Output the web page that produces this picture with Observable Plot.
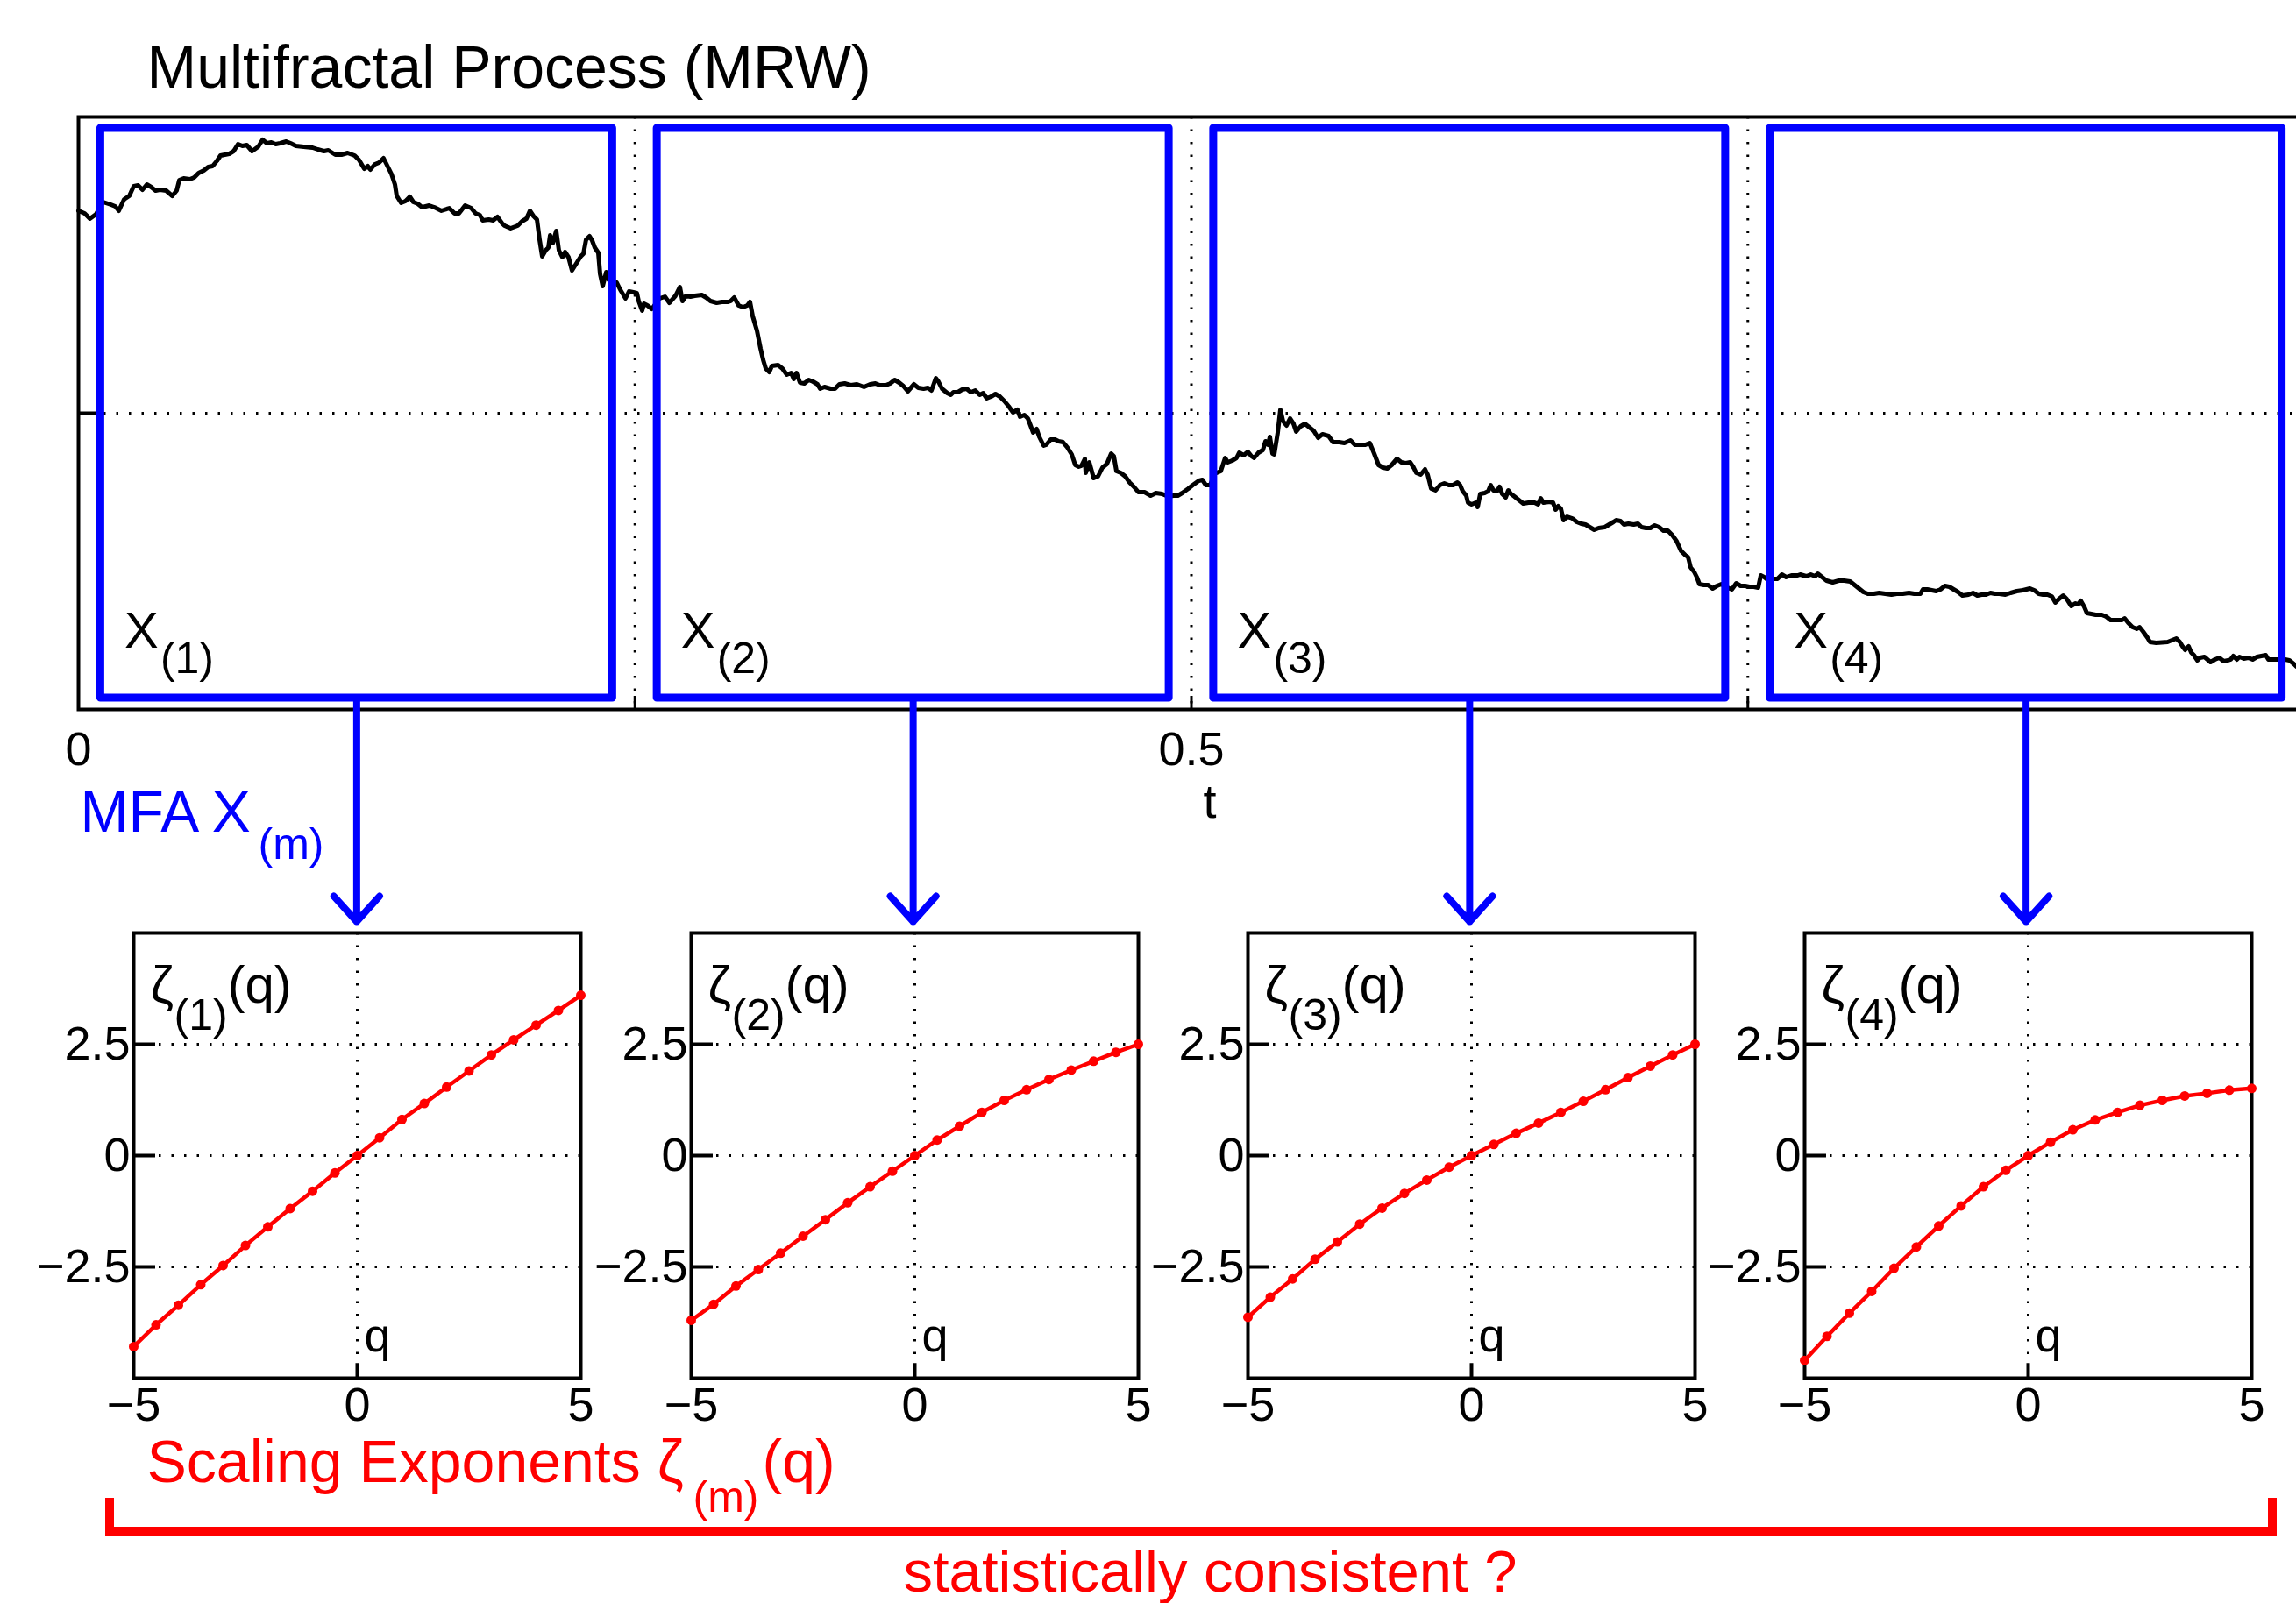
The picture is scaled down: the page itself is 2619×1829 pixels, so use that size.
<!DOCTYPE html>
<html><head><meta charset="utf-8">
<script src="https://cdn.jsdelivr.net/npm/d3@7"></script>
<script src="https://cdn.jsdelivr.net/npm/@observablehq/plot@0.6"></script>
<style>
html,body{margin:0;padding:0;background:#fff;overflow:hidden}
#fig{position:relative;width:2619px;height:1829px;overflow:hidden;background:#fff}
#fig svg{position:absolute;max-width:none;overflow:hidden;background:transparent}
#bracket{position:absolute;box-sizing:border-box;left:120px;top:1709px;width:2477px;height:43px;border:10px solid #ff0000;border-top:none}
</style></head>
<body><div id="fig"><div id="bracket"></div></div>
<script>
// ---------------- data ----------------
// MRW sample path: [sample index n (N samples per unit of t), value (arbitrary units)]
const samplesPerUnit = 2539;
const mrwPath = [
[0,2.31],[7,2.28],[13,2.22],[20,2.27],[28,2.41],[37,2.38],[42,2.36],[46,2.31],[52,2.44],[58,2.48],[63,2.59],[68,2.60],[73,2.55],[78,2.61],[83,2.58],[88,2.54],[93,2.55],[100,2.54],[107,2.48],[112,2.54],[115,2.66],[120,2.68],[127,2.67],[132,2.69],[137,2.74],[143,2.77],[148,2.81],[153,2.82],[158,2.88],[162,2.94],[167,2.95],[172,2.96],[177,2.99],[182,3.07],[187,3.05],[192,3.06],[198,2.99],[205,3.04],[210,3.12],[215,3.08],[220,3.09],[225,3.07],[230,3.08],[237,3.10],[242,3.08],[248,3.05],[257,3.04],[267,3.03],[273,3.01],[280,2.99],[285,3.00],[293,2.95],[300,2.95],[307,2.97],[315,2.94],[320,2.89],[326,2.79],[330,2.82],[333,2.78],[338,2.84],[343,2.86],[348,2.91],[352,2.83],[357,2.73],[361,2.61],[363,2.48],[368,2.40],[373,2.42],[378,2.47],[382,2.41],[387,2.39],[392,2.35],[400,2.37],
[406,2.35],[414,2.31],[423,2.34],[429,2.28],[434,2.28],[441,2.37],[448,2.34],[453,2.28],[458,2.26],[461,2.20],[468,2.21],[473,2.20],[478,2.24],[483,2.17],[486,2.14],[493,2.11],[501,2.14],[506,2.19],[511,2.22],[515,2.31],[519,2.25],[523,2.21],[526,1.98],[529,1.79],[533,1.86],[536,1.89],[538,2.03],[541,1.94],[545,2.08],[548,1.86],[552,1.78],[555,1.84],[559,1.78],[563,1.63],[568,1.71],[573,1.79],[576,1.82],[579,1.98],[583,2.02],[586,1.97],[589,1.89],[593,1.83],[595,1.59],[598,1.45],[602,1.61],[604,1.53],[609,1.48],[614,1.49],[618,1.41],[621,1.36],[624,1.31],[628,1.39],[633,1.38],[637,1.37],[639,1.28],[643,1.17],[645,1.25],[649,1.23],[654,1.19],[663,1.31],[669,1.33],[674,1.26],[681,1.34],[686,1.44],[689,1.28],[693,1.34],[698,1.33],[703,1.34],[711,1.35],[716,1.32],[721,1.28],[728,1.26],[734,1.27],[741,1.27],[744,1.28],[748,1.32],[753,1.23],[758,1.21],[763,1.23],[766,1.27],[769,1.11],[774,0.94],[778,0.74],[781,0.61],[784,0.51],[788,0.47],[791,0.54],
[798,0.55],[803,0.51],[808,0.44],[813,0.46],[816,0.39],[819,0.46],[823,0.35],[828,0.34],[833,0.38],[838,0.36],[843,0.33],[846,0.28],[851,0.30],[858,0.28],[863,0.28],[868,0.33],[874,0.34],[881,0.32],[888,0.33],[896,0.30],[903,0.33],[909,0.34],[914,0.32],[921,0.32],[926,0.34],[931,0.38],[936,0.35],[941,0.31],[946,0.25],[953,0.33],[958,0.29],[964,0.28],[969,0.29],[973,0.26],[978,0.40],[981,0.36],[985,0.28],[991,0.23],[995,0.21],[998,0.24],[1003,0.24],[1008,0.27],[1013,0.28],[1018,0.24],[1023,0.26],[1028,0.21],[1032,0.23],[1036,0.17],[1041,0.19],[1046,0.22],[1051,0.19],[1056,0.14],[1061,0.08],[1066,0.01],[1071,0.04],[1074,-0.04],[1079,-0.02],[1083,-0.06],[1086,-0.14],[1089,-0.22],[1093,-0.18],[1096,-0.27],[1101,-0.37],[1104,-0.36],[1109,-0.30],[1114,-0.30],[1118,-0.32],[1123,-0.33],[1128,-0.39],[1133,-0.47],[1137,-0.59],[1141,-0.61],[1144,-0.60],[1148,-0.52],[1149,-0.68],[1153,-0.56],[1158,-0.74],[1163,-0.72],[1168,-0.62],[1173,-0.58],[1178,-0.46],[1181,-0.49],
[1184,-0.66],[1189,-0.68],[1194,-0.72],[1199,-0.79],[1204,-0.84],[1209,-0.90],[1216,-0.90],[1223,-0.94],[1229,-0.91],[1236,-0.92],[1243,-0.95],[1249,-0.94],[1254,-0.94],[1259,-0.91],[1266,-0.86],[1271,-0.82],[1278,-0.77],[1282,-0.76],[1286,-0.82],[1291,-0.82],[1296,-0.69],[1303,-0.66],[1308,-0.51],[1311,-0.56],[1316,-0.54],[1321,-0.51],[1324,-0.45],[1329,-0.48],[1334,-0.44],[1338,-0.49],[1341,-0.51],[1346,-0.45],[1351,-0.42],[1354,-0.32],[1357,-0.36],[1359,-0.27],[1362,-0.46],[1364,-0.47],[1368,-0.22],[1371,0.04],[1374,-0.09],[1378,-0.14],[1382,-0.06],[1386,-0.12],[1389,-0.21],[1394,-0.15],[1399,-0.12],[1404,-0.16],[1409,-0.20],[1414,-0.28],[1419,-0.24],[1426,-0.26],[1431,-0.33],[1438,-0.33],[1444,-0.34],[1451,-0.31],[1456,-0.36],[1461,-0.36],[1468,-0.36],[1473,-0.34],[1478,-0.46],[1483,-0.59],[1488,-0.62],[1493,-0.63],[1498,-0.59],[1504,-0.52],[1509,-0.56],[1514,-0.57],[1519,-0.56],[1523,-0.62],[1526,-0.68],[1531,-0.70],[1536,-0.64],[1539,-0.70],[1543,-0.86],[1548,-0.88],[1553,-0.82],[1558,-0.80],[1563,-0.82],[1568,-0.82],
[1573,-0.79],[1576,-0.82],[1579,-0.89],[1583,-0.94],[1585,-1.02],[1589,-1.04],[1594,-1.02],[1596,-1.07],[1599,-0.92],[1604,-0.91],[1608,-0.89],[1611,-0.82],[1614,-0.88],[1618,-0.89],[1621,-0.84],[1624,-0.92],[1628,-0.96],[1631,-0.88],[1634,-0.92],[1638,-0.95],[1643,-0.99],[1648,-1.03],[1654,-1.02],[1661,-1.02],[1665,-1.04],[1668,-0.97],[1671,-1.02],[1678,-1.01],[1682,-1.02],[1685,-1.10],[1688,-1.06],[1691,-1.09],[1694,-1.22],[1698,-1.18],[1704,-1.20],[1709,-1.24],[1714,-1.26],[1719,-1.27],[1724,-1.30],[1729,-1.33],[1734,-1.31],[1741,-1.30],[1746,-1.27],[1751,-1.24],[1754,-1.22],[1759,-1.23],[1763,-1.27],[1768,-1.26],[1774,-1.27],[1779,-1.26],[1783,-1.30],[1788,-1.31],[1793,-1.31],[1798,-1.28],[1803,-1.30],[1808,-1.34],[1813,-1.34],[1818,-1.39],[1823,-1.46],[1828,-1.57],[1833,-1.62],[1836,-1.64],[1839,-1.76],[1843,-1.81],[1846,-1.87],[1849,-1.95],[1854,-1.96],[1859,-1.96],[1864,-2.00],[1869,-1.97],[1874,-1.95],[1881,-1.99],[1886,-2.01],[1891,-1.94],[1896,-1.97],[1901,-1.97],[1906,-1.98],[1911,-1.98],[1916,-1.99],[1919,-1.85],[1923,-1.87],[1928,-1.91],[1933,-1.89],[1938,-1.89],[1943,-1.84],[1948,-1.87],[1954,-1.85],[1961,-1.85],
[1964,-1.84],[1971,-1.86],[1976,-1.84],[1981,-1.86],[1984,-1.83],[1989,-1.87],[1994,-1.91],[2001,-1.93],[2008,-1.91],[2014,-1.91],[2021,-1.92],[2026,-1.96],[2031,-2.00],[2036,-2.04],[2041,-2.06],[2048,-2.06],[2054,-2.05],[2061,-2.06],[2068,-2.07],[2074,-2.06],[2081,-2.06],[2088,-2.05],[2094,-2.06],[2101,-2.06],[2104,-2.01],[2109,-2.01],[2114,-2.02],[2119,-2.03],[2124,-2.01],[2129,-1.97],[2134,-1.98],[2139,-2.01],[2144,-2.04],[2149,-2.08],[2156,-2.07],[2161,-2.05],[2166,-2.08],[2171,-2.07],[2176,-2.07],[2181,-2.05],[2186,-2.06],[2191,-2.06],[2198,-2.07],[2204,-2.05],[2211,-2.03],[2218,-2.02],[2226,-2.00],[2231,-2.02],[2236,-2.06],[2241,-2.07],[2246,-2.07],[2251,-2.09],[2255,-2.16],[2259,-2.12],[2264,-2.08],[2268,-2.12],[2273,-2.20],[2278,-2.17],[2281,-2.18],[2284,-2.14],[2288,-2.21],[2291,-2.28],[2296,-2.29],[2301,-2.30],[2308,-2.30],[2313,-2.32],[2318,-2.36],[2324,-2.36],[2331,-2.36],[2334,-2.34],[2338,-2.39],[2343,-2.44],[2348,-2.46],[2351,-2.44],
[2355,-2.49],[2360,-2.56],[2363,-2.61],[2370,-2.62],[2383,-2.61],[2388,-2.59],[2393,-2.57],[2397,-2.61],[2400,-2.66],[2403,-2.70],[2407,-2.66],[2410,-2.73],[2413,-2.76],[2417,-2.82],[2420,-2.79],[2425,-2.78],[2432,-2.84],[2437,-2.81],[2442,-2.79],[2447,-2.83],[2452,-2.82],[2455,-2.81],[2458,-2.77],[2462,-2.81],[2465,-2.78],[2470,-2.80],[2475,-2.79],[2480,-2.81],[2485,-2.78],[2490,-2.77],[2495,-2.76],[2498,-2.81],[2503,-2.81],[2510,-2.81],[2517,-2.81],[2522,-2.82],[2527,-2.86],[2530,-2.89]
];

// analysis windows (in t)
const segStart = [0.01, 0.26, 0.51, 0.76];
const segEnd   = [0.24, 0.49, 0.74, 0.99];
const segLabels = ["(1)", "(2)", "(3)", "(4)"];

// top panel ticks
const tTickLabels = [0, 0.5];
const tGrid = [0.25, 0.5, 0.75];
const vGrid = [0];

// scaling exponents
const qValues = [-5,-4.5,-4,-3.5,-3,-2.5,-2,-1.5,-1,-0.5,0,0.5,1,1.5,2,2.5,3,3.5,4,4.5,5];
const zeta1 = [-4.29,-3.80,-3.36,-2.90,-2.47,-2.02,-1.60,-1.19,-0.80,-0.39,0,0.40,0.81,1.17,1.54,1.90,2.26,2.60,2.93,3.26,3.60];
const zeta2 = [-3.70,-3.34,-2.93,-2.56,-2.19,-1.81,-1.44,-1.06,-0.70,-0.35,0,0.35,0.66,0.97,1.24,1.48,1.71,1.92,2.12,2.32,2.50];
const zeta3 = [-3.63,-3.18,-2.77,-2.33,-1.94,-1.54,-1.18,-0.85,-0.55,-0.26,0,0.25,0.50,0.73,0.97,1.22,1.48,1.75,2.01,2.26,2.50];
const zeta4 = [-4.60,-4.06,-3.54,-3.05,-2.53,-2.05,-1.58,-1.13,-0.70,-0.33,0,0.30,0.58,0.80,0.97,1.13,1.24,1.34,1.40,1.47,1.51];
const zetaSeries = [zeta1, zeta2, zeta3, zeta4];
const qTicks = [-5, 0, 5];
const zTicks = [-2.5, 0, 2.5];

// ---------------- drawing ----------------
const FONT = '"Liberation Sans", Arial, Helvetica, sans-serif';
const BLUE = "#0000ff", RED = "#ff0000";
const dotted = {stroke: "black", strokeOpacity: 1, strokeWidth: 3, strokeDasharray: "2.5,12"};
const minus = d => (d < 0 ? "\u2212" : "") + Math.abs(d);

const mrw = mrwPath.map(([n, v]) => ({t: n / samplesPerUnit, v}));
const segs = segStart.map((s, i) => ({x1: s, x2: segEnd[i], mid: (s + segEnd[i]) / 2, sub: segLabels[i]}));

const fig = document.getElementById("fig");

const topPlot = Plot.plot({
  width: 2619, height: 1829,
  marginLeft: 89, marginRight: -9, marginTop: 133, marginBottom: 1020,
  style: {fontFamily: FONT, overflow: "hidden", background: "transparent"},
  x: {domain: [0, 1]},
  y: {domain: [-3.38, 3.38], axis: null},
  marks: [
    Plot.gridX({ticks: tGrid, ...dotted}),
    Plot.gridY({ticks: vGrid, ...dotted}),
    Plot.frame({stroke: "black", strokeWidth: 4}),
    Plot.ruleX(tGrid, {y1: -3.38, y2: -3.23, stroke: "black", strokeWidth: 3}),
    Plot.ruleY(vGrid, {x1: 0, x2: 0.009, stroke: "black", strokeWidth: 4}),
    Plot.axisX({ticks: tTickLabels, tickSize: 0, tickPadding: 25, tickFormat: d => String(d), fontSize: 54, label: null}),
    Plot.line(mrw, {x: "t", y: "v", stroke: "black", strokeWidth: 5, strokeLinejoin: "round"}),
    Plot.arrow(segs, {x1: "mid", x2: "mid", y1: -3.25, y2: -5.80, stroke: BLUE, strokeWidth: 8, headLength: 7.3, headAngle: 84}),
    Plot.rect(segs, {x1: "x1", x2: "x2", y1: -3.25, y2: 3.25, fill: "none", stroke: BLUE, strokeWidth: 9, strokeLinejoin: "round"}),
    Plot.text(segs, {x: "x1", y: -2.67, text: () => "X", dx: 27, textAnchor: "start", lineAnchor: "bottom", fontSize: 58}),
    Plot.text(segs, {x: "x1", y: -2.96, text: "sub", dx: 68, textAnchor: "start", lineAnchor: "bottom", fontSize: 50}),
    Plot.text(["Multifractal Process (MRW)"], {frameAnchor: "top-left", dx: 78, dy: -34, textAnchor: "start", lineAnchor: "bottom", fontSize: 68}),
    Plot.text(["t"], {frameAnchor: "bottom", dx: 21, dy: 123, lineAnchor: "bottom", fontSize: 54}),
    Plot.text(["MFA X"], {frameAnchor: "bottom-left", dx: 2, dy: 139, textAnchor: "start", lineAnchor: "bottom", fontSize: 66, fill: BLUE}),
    Plot.text(["(m)"], {frameAnchor: "bottom-left", dx: 205, dy: 170, textAnchor: "start", lineAnchor: "bottom", fontSize: 50, fill: BLUE}),
    Plot.text(["Scaling Exponents \u03b6"], {frameAnchor: "bottom-left", dx: 78, dy: 881, textAnchor: "start", lineAnchor: "bottom", fontSize: 68, fill: RED}),
    Plot.text(["(m)"], {frameAnchor: "bottom-left", dx: 701, dy: 915, textAnchor: "start", lineAnchor: "bottom", fontSize: 50, fill: RED}),
    Plot.text(["(q)"], {frameAnchor: "bottom-left", dx: 780, dy: 881, textAnchor: "start", lineAnchor: "bottom", fontSize: 68, fill: RED}),
    Plot.text(["statistically consistent ?"], {frameAnchor: "bottom-left", dx: 941, dy: 1006, textAnchor: "start", lineAnchor: "bottom", fontSize: 67, fill: RED})
  ]
});
topPlot.style.left = "0px";
topPlot.style.top = "0px";
fig.appendChild(topPlot);

const subFrameLeft = [152, 788, 1423, 2058];
const ML = 120, MT = 20;
zetaSeries.forEach((zeta, k) => {
  const data = qValues.map((q, i) => ({q, z: zeta[i]}));
  const p = Plot.plot({
    width: 660, height: 618,
    marginLeft: ML, marginRight: 30, marginTop: MT, marginBottom: 90,
    style: {fontFamily: FONT, overflow: "hidden", background: "transparent"},
    x: {domain: [-5, 5]},
    y: {domain: [-5, 5]},
    marks: [
      Plot.gridX({ticks: [0], ...dotted}),
      Plot.gridY({ticks: zTicks, ...dotted}),
      Plot.frame({stroke: "black", strokeWidth: 4}),
      Plot.ruleY(zTicks, {x1: -5, x2: -4.51, stroke: "black", strokeWidth: 4}),
      Plot.ruleX([0], {y1: -5, y2: -4.67, stroke: "black", strokeWidth: 4}),
      Plot.axisX({ticks: qTicks, tickSize: 0, tickPadding: 10, tickFormat: minus, fontSize: 54, label: null}),
      Plot.axisY({ticks: zTicks, tickSize: 0, tickPadding: 4, tickFormat: minus, fontSize: 54, label: null}),
      Plot.line(data, {x: "q", y: "z", stroke: RED, strokeWidth: 4.5}),
      Plot.dot(data, {x: "q", y: "z", r: 5.5, fill: RED, stroke: "none"}),
      Plot.text(["\u03b6"], {frameAnchor: "top-left", dx: 19, dy: 79, textAnchor: "start", lineAnchor: "bottom", fontSize: 60}),
      Plot.text([segLabels[k]], {frameAnchor: "top-left", dx: 46, dy: 110, textAnchor: "start", lineAnchor: "bottom", fontSize: 50}),
      Plot.text(["(q)"], {frameAnchor: "top-left", dx: 107, dy: 79, textAnchor: "start", lineAnchor: "bottom", fontSize: 60}),
      Plot.text(["q"], {frameAnchor: "bottom", dx: 8, dy: -31, textAnchor: "start", lineAnchor: "bottom", fontSize: 54})
    ]
  });
  p.style.left = (subFrameLeft[k] - ML) + "px";
  p.style.top = (1064 - MT) + "px";
  fig.appendChild(p);
});
</script>
</body></html>
